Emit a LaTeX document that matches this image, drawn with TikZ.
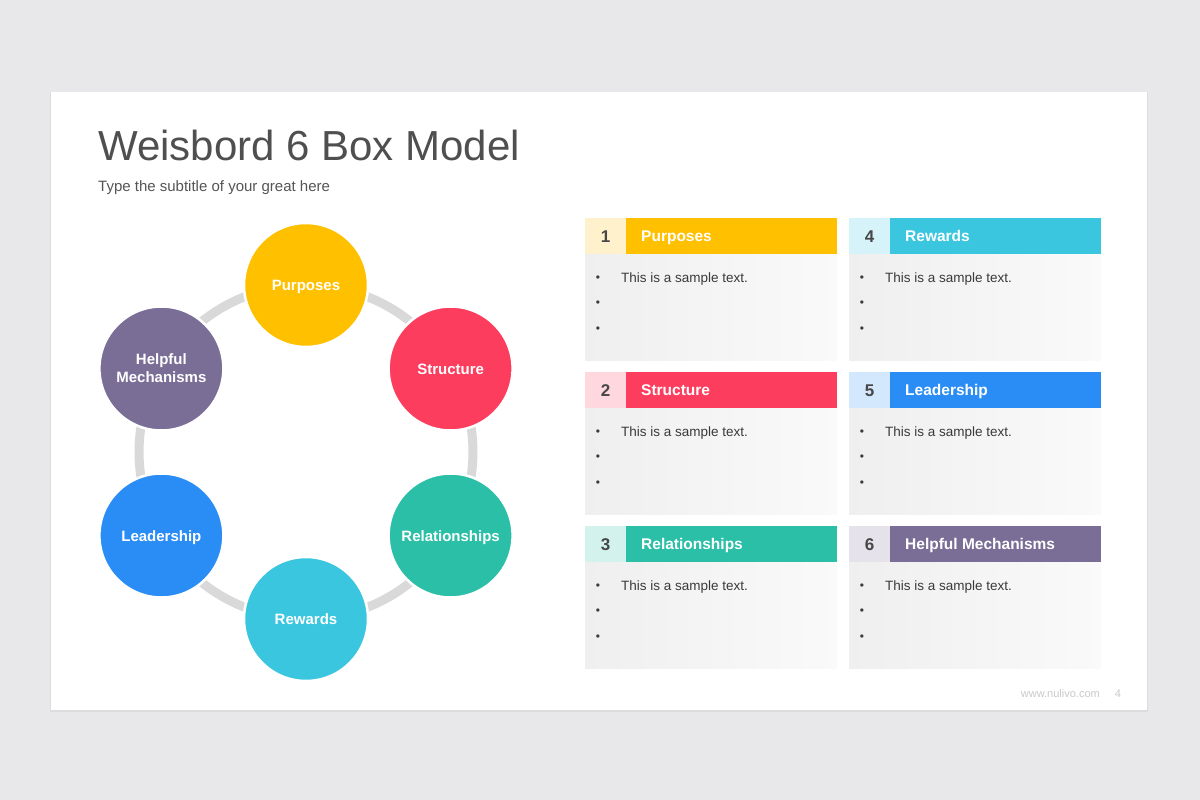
\documentclass[tikz,border=0pt]{standalone}
\usepackage{fontspec}
\setmainfont{Liberation Sans}
\usetikzlibrary{calc}
\pgfdeclarelayer{bg}
\pgfdeclarelayer{ringlayer}
\pgfsetlayers{bg,ringlayer,main}
\definecolor{pagebg}{HTML}{E8E7E9}
\definecolor{shadowc}{HTML}{DCDBDD}
\definecolor{titlec}{HTML}{4F4F4F}
\definecolor{subc}{HTML}{555555}
\definecolor{ringc}{HTML}{D9D9D9}
\definecolor{numc}{HTML}{474747}
\definecolor{bodyc}{HTML}{3A3A3A}
\definecolor{bodyL}{HTML}{EFEFEF}
\definecolor{bodyR}{HTML}{FAFAFA}
\definecolor{footc}{HTML}{C9C9C9}
\definecolor{cPur}{HTML}{FFC000}
\definecolor{cStr}{HTML}{FD3D5E}
\definecolor{cRel}{HTML}{2BBFA8}
\definecolor{cRew}{HTML}{3BC6E0}
\definecolor{cLea}{HTML}{2A8DF6}
\definecolor{cHel}{HTML}{7A6E97}
\definecolor{tPur}{HTML}{FFF1CC}
\definecolor{tStr}{HTML}{FFD7DE}
\definecolor{tRel}{HTML}{D4F2ED}
\definecolor{tRew}{HTML}{D6F3F9}
\definecolor{tLea}{HTML}{D4E8FD}
\definecolor{tHel}{HTML}{E5E2EC}
\tikzset{
  bubble/.style={circle, minimum size=124pt, inner sep=0pt, text=white,
    font=\bfseries\fontsize{15}{18}\selectfont, align=center, draw=white, line width=2.5pt},
  oneline/.style={text height=11pt, text depth=0pt},
  ringseg/.style={line width=9pt, draw=ringc},
  numtxt/.style={font=\bfseries\fontsize{17}{20}\selectfont, text=numc, inner sep=0pt, anchor=base},
  headtxt/.style={font=\bfseries\fontsize{15.5}{18}\selectfont, text=white, anchor=base west, inner sep=0pt},
  bodytxt/.style={font=\fontsize{13.5}{16}\selectfont, text=bodyc, anchor=base west, inner sep=0pt},
  bultxt/.style={font=\fontsize{12}{14}\selectfont, text=bodyc, inner sep=0pt}
}
% #1 x, #2 y, #3 number, #4 title, #5 colour, #6 tint, #7 name
\newcommand{\wcard}[7]{%
  \fill[#6] (#1,#2) rectangle ++(41,36);
  \fill[#5] (#1+41,#2) rectangle ++(211,36);
  \shade[left color=bodyL, right color=bodyR] (#1,#2+36) rectangle ++(252,106);
  \node[numtxt] (#7num) at (#1+20.5,#2+24.5) {#3};
  \node[headtxt] (#7head) at (#1+56,#2+23.5) {#4};
  \node[bultxt] (#7ba) at (#1+13,#2+61) {•};
  \node[bultxt] (#7bb) at (#1+13,#2+86) {•};
  \node[bultxt] (#7bc) at (#1+13,#2+112) {•};
  \node[bodytxt] (#7txt) at (#1+36,#2+64.5) {This is a sample text.};
}
\begin{document}
\begin{tikzpicture}[x=1pt,y=-1pt]
\useasboundingbox (0,0) rectangle (1200,800);
\begin{pgfonlayer}{bg}
  \fill[pagebg] (0,0) rectangle (1200,800);
  \fill[shadowc] (50,93) rectangle (1148,712);
  \fill[white] (51,92) rectangle (1147,710);
\end{pgfonlayer}

\node[anchor=base west, inner sep=0pt, text=titlec, font=\fontsize{42}{48}\selectfont] (title) at (98,160) {Weisbord 6 Box Model};
\node[anchor=base west, inner sep=0pt, text=subc, font=\fontsize{15}{18}\selectfont] (subtitle) at (98,191) {Type the subtitle of your great here};

\node[bubble, oneline, fill=cPur] (pur) at (306,285) {Purposes};
\node[bubble, oneline, fill=cStr] (str) at (450.6,368.5) {Structure};
\node[bubble, oneline, fill=cRel] (rel) at (450.6,535.5) {Relationships};
\node[bubble, oneline, fill=cRew] (rew) at (306,619) {Rewards};
\node[bubble, oneline, fill=cLea] (lea) at (161.4,535.5) {Leadership};
\node[bubble, fill=cHel] (hel) at (161.4,368.5) {Helpful\\Mechanisms};

\begin{pgfonlayer}{ringlayer}
  \draw[ringseg] (pur.center) arc[start angle=270, end angle=330, radius=167];
  \draw[ringseg] (str.center) arc[start angle=-30, end angle=30, radius=167];
  \draw[ringseg] (rel.center) arc[start angle=30, end angle=90, radius=167];
  \draw[ringseg] (rew.center) arc[start angle=90, end angle=150, radius=167];
  \draw[ringseg] (lea.center) arc[start angle=150, end angle=210, radius=167];
  \draw[ringseg] (hel.center) arc[start angle=210, end angle=270, radius=167];
\end{pgfonlayer}

\wcard{585}{218}{1}{Purposes}{cPur}{tPur}{ca}
\wcard{585}{372}{2}{Structure}{cStr}{tStr}{cb}
\wcard{585}{526}{3}{Relationships}{cRel}{tRel}{cc}
\wcard{849}{218}{4}{Rewards}{cRew}{tRew}{cd}
\wcard{849}{372}{5}{Leadership}{cLea}{tLea}{ce}
\wcard{849}{526}{6}{Helpful Mechanisms}{cHel}{tHel}{cf}

\node[anchor=base east, inner sep=0pt, text=footc, font=\fontsize{11}{13}\selectfont] (web) at (1100,697) {www.nulivo.com};
\node[anchor=base, inner sep=0pt, text=footc, font=\fontsize{11}{13}\selectfont] (pnum) at (1118,697) {4};
\end{tikzpicture}
\end{document}
